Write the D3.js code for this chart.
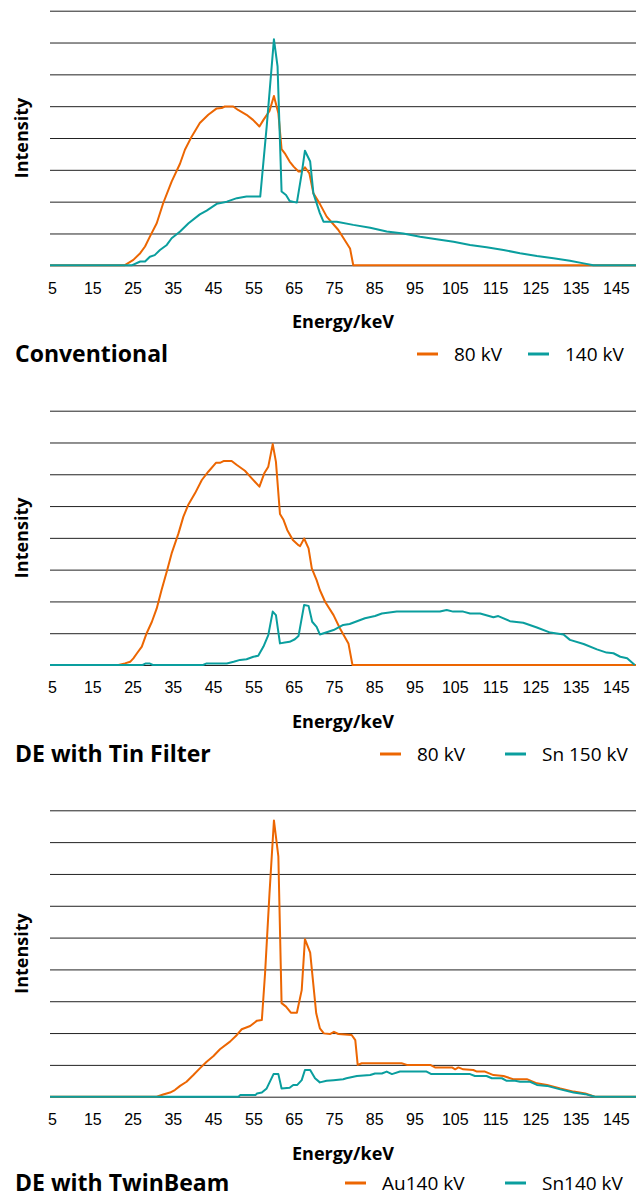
<!DOCTYPE html>
<html>
<head>
<meta charset="utf-8">
<script src="https://cdn.jsdelivr.net/npm/d3@7"></script>
<style>
  body { margin: 0; background: #fff; }
  svg { display: block; font-family: "Open Sans", "Noto Sans", sans-serif; }
  .tick text { font-size: 16px; fill: #000; }
  .axis-title { font-size: 18px; font-weight: bold; }
  .panel-title { font-size: 23px; font-weight: bold; }
  .legend text { font-size: 19px; }
</style>
</head>
<body>
<div id="chart"></div>
<script>
// tick labels on the energy axis (keV)
const energyTicks = [5, 15, 25, 35, 45, 55, 65, 75, 85, 95, 105, 115, 125, 135, 145];

// spectra, [energy keV, intensity in grid units]
const conv80 = [[4.5,0],[23,0],[25.2,0.17],[26.9,0.38],[28.1,0.59],[29.3,0.9],[31,1.32],[32.6,1.95],[34.7,2.63],
  [36.8,3.2],[38,3.63],[39.7,4.05],[41.7,4.47],[43.8,4.73],[45.9,4.93],[47.1,4.94],[47.9,4.99],[50,4.99],[51.2,4.88],
  [53.3,4.73],[54.9,4.57],[56.5,4.36],[57.5,4.57],[59,4.85],[60.1,5.32],[61.2,4.78],[62,3.65],[62.8,3.52],[64,3.26],
  [65,3.1],[66.2,2.95],[67,2.95],[67.8,3.08],[68.9,2.89],[69.9,2.26],[71.5,1.93],[73.2,1.53],[76.1,1.11],[79,0.53],
  [79.8,0],[150,0]];
const conv140 = [[4.5,0],[24.8,0],[26.9,0.12],[28.1,0.12],[29.3,0.27],[30.5,0.32],[31.8,0.48],[33.5,0.64],[34.7,0.85],
  [36.8,1.06],[38.9,1.32],[41.7,1.6],[43.4,1.72],[45.9,1.93],[48.4,2.0],[50.9,2.11],[53.3,2.16],[56.7,2.16],[58.3,4.36],
  [60.1,7.1],[61,6.25],[62,2.32],[63.1,2.21],[64,2.02],[65.8,1.97],[67,2.89],[67.8,3.6],[69.1,3.26],[69.9,2.26],
  [71.5,1.64],[72.4,1.37],[75.7,1.37],[79.8,1.27],[84,1.18],[88.1,1.06],[92.2,1.0],[96.4,0.9],[100.5,0.82],[104.7,0.74],
  [108.8,0.64],[112.9,0.57],[117.1,0.48],[121.2,0.38],[125.4,0.29],[129.5,0.22],[133.6,0.14],[137,0.06],[139.4,0],[150,0]];

const tin80 = [[4.5,0],[21.5,0],[23.1,0.05],[24.4,0.1],[25.2,0.21],[26.1,0.37],[27.3,0.58],[28.5,1.0],[29.8,1.36],
  [31,1.78],[32.2,2.36],[33.5,2.94],[34.7,3.51],[36.4,4.14],[37.6,4.66],[38.8,5.03],[40.5,5.4],[42.2,5.82],[43.8,6.08],
  [45.7,6.36],[46.7,6.36],[47.7,6.42],[49.6,6.42],[50.9,6.29],[52.9,6.11],[54.6,5.87],[56.5,5.61],[57.7,6.03],[58.7,6.24],
  [59.8,6.95],[60.6,6.39],[61.6,4.75],[62.5,4.56],[63.4,4.25],[64.8,3.93],[66.2,3.77],[66.6,3.74],[67.6,3.98],[68.7,3.67],
  [69.5,3.04],[70.7,2.67],[71.5,2.36],[72.8,1.99],[74.9,1.57],[76.5,1.15],[78.6,0.68],[79.6,0],[150,0]];
const tinSn150 = [[4.5,0],[27.5,0],[28.3,0.05],[29.2,0.05],[30,0],[42.5,0],[43.4,0.05],[48.4,0.05],[50.1,0.1],[51.7,0.16],
  [53.3,0.18],[55,0.26],[56.2,0.29],[57.5,0.58],[58.7,0.94],[59.8,1.68],[60.6,1.57],[61.6,0.68],[62.8,0.71],[64,0.73],
  [65.3,0.81],[66.2,0.91],[67.6,1.89],[68.7,1.86],[69.6,1.36],[70.7,1.2],[71.5,0.96],[74.9,1.1],[77.3,1.26],[78.9,1.29],
  [82.7,1.47],[85.2,1.54],[86.9,1.62],[90.6,1.68],[96.4,1.68],[101.3,1.68],[103,1.73],[104.6,1.68],[107.1,1.68],
  [108.8,1.62],[111.3,1.62],[114.6,1.5],[115.8,1.54],[118.7,1.38],[122,1.33],[125.4,1.18],[128.7,1.02],[132,0.96],
  [133.6,0.79],[137,0.66],[140.3,0.49],[142.7,0.39],[144.4,0.37],[146.1,0.26],[147.8,0.21],[149.7,0]];

const twinAu140 = [[4.5,0],[31,0],[32.6,0.07],[34.3,0.13],[35.5,0.21],[36.8,0.34],[38.4,0.47],[40.1,0.68],[41.7,0.89],
  [43.4,1.1],[45.1,1.28],[46.7,1.49],[49.2,1.73],[50.9,1.94],[52.1,2.12],[54.2,2.22],[55.9,2.39],[57.1,2.41],[57.9,3.88],
  [59,6.39],[60.1,8.68],[61.2,7.55],[62,2.94],[63.1,2.83],[64.3,2.64],[65.8,2.64],[67,3.35],[67.8,4.95],[69.1,4.53],
  [70.6,2.62],[71.5,2.15],[72.5,1.99],[74,1.97],[75,2.04],[76.1,1.97],[79.4,1.94],[80.3,1.78],[80.9,1.0],[81.9,1.05],
  [91.8,1.05],[93.1,1.0],[98.9,1.0],[100.1,0.92],[104.3,0.92],[105.1,0.86],[105.9,0.92],[107.1,0.86],[109.6,0.84],
  [110.5,0.79],[112.5,0.79],[114.6,0.68],[117.1,0.65],[119.5,0.55],[122.9,0.55],[125.4,0.42],[127.9,0.37],[131.2,0.26],
  [134.5,0.16],[137.4,0.1],[139.8,0],[150,0]];
const twinSn140 = [[4.5,0],[51.3,0],[51.7,0.05],[55.5,0.05],[55.9,0.1],[57.1,0.13],[58.3,0.26],[60,0.71],[61.2,0.71],
  [62,0.26],[64,0.28],[64.9,0.37],[65.9,0.37],[67,0.52],[67.8,0.84],[69.1,0.84],[70.3,0.58],[71.5,0.45],[73.2,0.5],
  [74.9,0.52],[77.3,0.55],[78.1,0.58],[80.7,0.65],[84,0.68],[85.2,0.73],[86.9,0.73],[88.1,0.79],[89.4,0.71],[91.4,0.79],
  [98,0.79],[99.2,0.71],[108.8,0.71],[110,0.65],[112.9,0.65],[114.2,0.58],[116.7,0.58],[117.9,0.5],[120,0.5],[121.2,0.47],
  [123.7,0.47],[125.4,0.37],[127.9,0.34],[131.2,0.23],[134.5,0.13],[137.4,0.08],[139.8,0],[150,0]];

const orange = "#ec6602";
const teal = "#0a9e9e";

const panels = [
  { title: "Conventional", top: 10.7, base: 265.3, units: 8, titleY: 362,
    series: [{ name: "80 kV", data: conv80, color: orange }, { name: "140 kV", data: conv140, color: teal }],
    legendX: [417, 528] },
  { title: "DE with Tin Filter", top: 410.7, base: 665, units: 8, titleY: 762,
    series: [{ name: "80 kV", data: tin80, color: orange }, { name: "Sn 150 kV", data: tinSn150, color: teal }],
    legendX: [380, 505] },
  { title: "DE with TwinBeam", top: 810.3, base: 1096.7, units: 9, titleY: 1191,
    series: [{ name: "Au140 kV", data: twinAu140, color: orange }, { name: "Sn140 kV", data: twinSn140, color: teal }],
    legendX: [345, 505] }
];

const width = 641, height = 1198;
const svg = d3.select("#chart").append("svg")
    .attr("width", width)
    .attr("height", height);

const x = d3.scaleLinear().domain([4.5, 150]).range([50, 636]);

panels.forEach(p => {
  const y = d3.scaleLinear().domain([0, p.units]).range([p.base, p.top]);
  const g = svg.append("g");

  // horizontal grid lines
  g.append("g")
    .call(d3.axisLeft(y).ticks(p.units).tickSize(-(636 - 50)).tickFormat(""))
    .attr("transform", "translate(50,0)")
    .call(a => a.select(".domain").remove())
    .call(a => a.selectAll(".tick line").attr("stroke", "#222").attr("stroke-width", 1));

  // energy axis labels
  g.append("g")
    .attr("transform", `translate(0,${p.base})`)
    .call(d3.axisBottom(x).tickValues(energyTicks).tickSize(0).tickPadding(17).tickFormat(d3.format("d")))
    .call(a => a.select(".domain").remove());

  const line = d3.line().x(d => x(d[0])).y(d => y(d[1]));
  p.series.forEach(s => {
    g.append("path")
      .datum(s.data)
      .attr("fill", "none")
      .attr("stroke", s.color)
      .attr("stroke-width", 2)
      .attr("stroke-linejoin", "round")
      .attr("d", line);
  });

  g.append("text").attr("class", "axis-title")
    .attr("x", 343).attr("y", p.base + 63)
    .attr("text-anchor", "middle")
    .text("Energy/keV");

  g.append("text").attr("class", "axis-title")
    .attr("transform", `translate(28,${(p.top + p.base) / 2}) rotate(-90)`)
    .attr("text-anchor", "middle")
    .text("Intensity");

  g.append("text").attr("class", "panel-title")
    .attr("x", 15).attr("y", p.titleY)
    .text(p.title);

  // legend
  const lg = g.append("g").attr("class", "legend");
  p.series.forEach((s, i) => {
    const lx = p.legendX[i], ly = p.titleY - 8;
    lg.append("line")
      .attr("x1", lx).attr("x2", lx + 21)
      .attr("y1", ly).attr("y2", ly)
      .attr("stroke", s.color).attr("stroke-width", 3);
    lg.append("text")
      .attr("x", lx + 37).attr("y", ly + 7)
      .text(s.name);
  });
});
</script>
</body>
</html>
